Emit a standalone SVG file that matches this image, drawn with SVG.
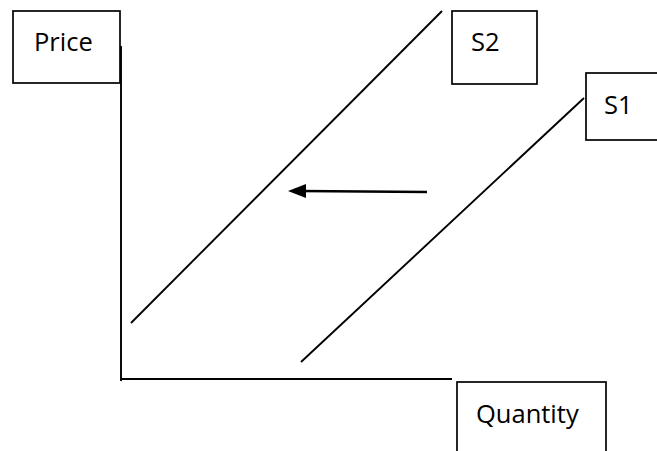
<svg xmlns="http://www.w3.org/2000/svg" width="657" height="451" viewBox="0 0 657 451">
<style>
.box{fill:#fff;stroke:#000;stroke-width:1.7}
.t{font-family:"Open Sans","Liberation Sans",sans-serif;font-size:25.5px;fill:#000}
.ln{stroke:#000;stroke-width:1.9;fill:none}
</style>
<rect width="657" height="451" fill="#fff"/>
<g id="price"><rect class="box" x="13" y="11" width="107" height="72"/><text class="t" x="34" y="51">Price</text></g>
<g id="s2"><rect class="box" x="452" y="11" width="85" height="73"/><text class="t" x="471" y="51">S2</text></g>
<g id="s1"><rect class="box" x="586" y="73" width="75" height="67"/><text class="t" x="604" y="114">S1</text></g>
<g id="quantity"><rect class="box" x="457" y="382" width="149" height="75"/><text class="t" x="476" y="423">Quantity</text></g>
<g id="connectors">
<line class="ln" x1="121" y1="46" x2="121" y2="381"/>
<line class="ln" x1="121" y1="379" x2="452" y2="379"/>
<line class="ln" x1="131" y1="323" x2="442" y2="11"/>
<line class="ln" x1="301" y1="362" x2="584" y2="98"/>
<line stroke="#000" stroke-width="2.4" x1="427" y1="192" x2="300" y2="191"/>
<path d="M288,191 L306,184 L306,198 z" fill="#000"/>
</g>
</svg>
